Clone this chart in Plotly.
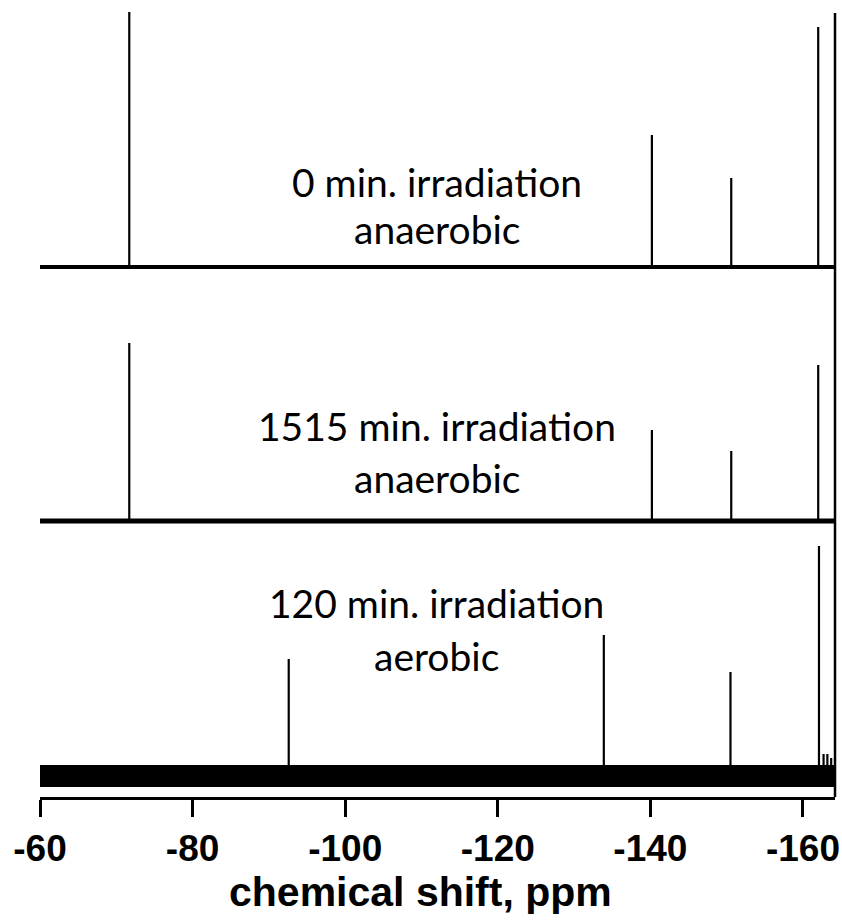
import plotly.graph_objects as go

# ---- data (chemical shift in ppm, intensity in arbitrary units) ----
x_left = -60.0
x_right = -164.2

# spectrum 1: 0 min irradiation, anaerobic
s1_offset = 530
s1_ppm = [-71.7, -140.2, -150.6, -162.0]
s1_int = [255, 132, 89, 240]

# spectrum 2: 1515 min irradiation, anaerobic
s2_offset = 276
s2_ppm = [-71.7, -140.2, -150.6, -162.0]
s2_int = [178, 91, 70, 156]

# spectrum 3: 120 min irradiation, aerobic
s3_offset = 21
s3_ppm = [-92.6, -133.9, -150.5, -162.1, -162.7, -163.2, -163.7]
s3_int = [117, 141, 104, 230, 22, 22, 18]

labels = [
    ("0 min. irradiation", 182),
    ("anaerobic", 229),
    ("1515 min. irradiation", 426),
    ("anaerobic", 478),
    ("120 min. irradiation", 603),
    ("aerobic", 656),
]

tick_vals = [-60, -80, -100, -120, -140, -160]
tick_text = ["-60", "-80", "-100", "-120", "-140", "-160"]
x_title = "chemical shift, ppm"

PLOT_H = 797  # plot-area height in px, y-values are in px units


def sticks(ppm, inten, base):
    xs, ys = [], []
    for p, h in zip(ppm, inten):
        xs += [p, p, None]
        ys += [base, base + h, None]
    return xs, ys


fig = go.Figure()

for base, ppm, inten, bw in [
    (s1_offset, s1_ppm, s1_int, 4),
    (s2_offset, s2_ppm, s2_int, 5),
    (s3_offset, s3_ppm, s3_int, 22),
]:
    fig.add_trace(go.Scatter(x=[x_left, x_right], y=[base, base], mode="lines",
                             line=dict(color="black", width=bw), hoverinfo="skip",
                             showlegend=False))
    xs, ys = sticks(ppm, inten, base)
    fig.add_trace(go.Scatter(x=xs, y=ys, mode="lines",
                             line=dict(color="black", width=2.2), hoverinfo="skip",
                             showlegend=False, connectgaps=False))

# vertical line at right edge
fig.add_shape(type="line", xref="x domain", yref="y", x0=1, x1=1, y0=0, y1=784,
              line=dict(color="black", width=2.5))

for text, ypx in labels:
    fig.add_annotation(x=-112.0, y=PLOT_H - ypx, xref="x", yref="y", text=text,
                       showarrow=False, xanchor="center", yanchor="middle",
                       font=dict(family="Lato", size=39, color="black"))

# axis title as annotation (slightly left of plot centre, like the reference)
fig.add_annotation(x=(420 - 40) / 795, y=0, xref="paper", yref="paper",
                   yshift=-70, text=x_title, showarrow=False,
                   xanchor="center", yanchor="top",
                   font=dict(family="Liberation Sans, Arial", size=41, color="black",
                             weight="bold"))

fig.update_xaxes(range=[x_left, x_right], tickvals=tick_vals, ticktext=tick_text,
                 showline=True, linecolor="black", linewidth=3,
                 ticks="outside", ticklen=17, tickwidth=3, tickcolor="black",
                 showgrid=False, zeroline=False,
                 tickfont=dict(family="Liberation Sans, Arial", size=37, color="black",
                               weight="bold"))
fig.update_yaxes(range=[0, PLOT_H], visible=False, showgrid=False, zeroline=False)

fig.update_layout(width=842, height=922,
                  margin=dict(l=40, r=7, t=0, b=125, pad=0),
                  plot_bgcolor="white", paper_bgcolor="white",
                  showlegend=False)

fig.write_html("out.html")
